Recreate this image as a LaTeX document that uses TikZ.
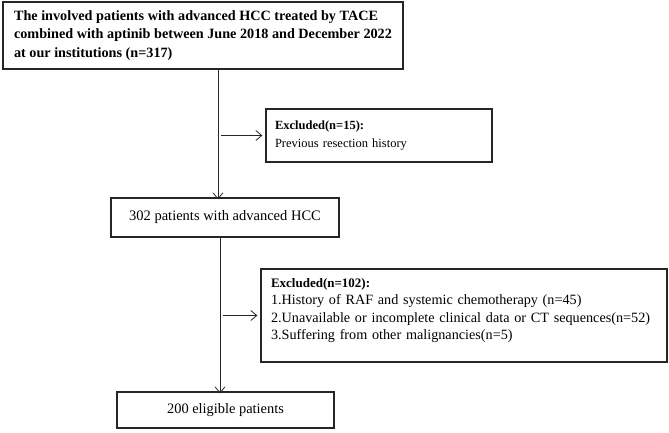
\documentclass[tikz,border=0pt]{standalone}
\usepackage{fontspec}
\setmainfont{Liberation Serif}
\usetikzlibrary{arrows.meta}
\begin{document}
\begin{tikzpicture}[x=1pt,y=-1pt,
  box/.style={draw=black!85, line width=1.2pt, align=left, inner ysep=0pt},
  arr/.style={line width=0.8pt, draw=black!85, -{Straight Barb[length=6pt,width=10pt,line width=0.8pt]}}]
\useasboundingbox (0,0) rectangle (669,432);
\node[box, minimum width=400pt, minimum height=67pt, font=\fontsize{14.2}{18.5}\selectfont\bfseries] (top) at (203,35.5)
  {The involved patients with advanced HCC treated by TACE\\combined with aptinib between June 2018 and December 2022\\at our institutions (n=317)};
\node[box, minimum width=226pt, minimum height=53pt, text width=208pt, font=\fontsize{12.5}{18}\selectfont] (ex1) at (379,135.5)
  {\textbf{Excluded(n=15):}\\Previous resection history};
\node[box, minimum width=228pt, minimum height=39pt, align=center, font=\fontsize{14.5}{18}\selectfont] (mid) at (225,217.5)
  {302 patients with advanced HCC};
\node[box, minimum width=406pt, minimum height=93pt, text width=386pt, font=\fontsize{14.2}{17.5}\selectfont] (ex2) at (464,315.5)
  {{\fontsize{13}{17.5}\selectfont\textbf{Excluded(n=102):}}\\1.History of RAF and systemic chemotherapy (n=45)\\2.Unavailable or incomplete clinical data or CT sequences(n=52)\\3.Suffering from other malignancies(n=5)\\[-4pt]\mbox{}};
\node[box, minimum width=217pt, minimum height=36pt, align=center, font=\fontsize{14.4}{18}\selectfont] (fin) at (225.5,410)
  {200 eligible patients};
\coordinate (v1) at (218,0);
\coordinate (v2) at (220,0);
\draw[arr] (top.south -| v1) -- ([yshift=-2pt]mid.north -| v1);
\draw[arr, shorten <=3pt, shorten >=3pt] (ex1.west -| v1) -- (ex1.west);
\draw[arr] (mid.south -| v2) -- ([yshift=-2pt]fin.north -| v2);
\draw[arr, shorten <=3pt, shorten >=3pt] (ex2.west -| v2) -- (ex2.west);
\end{tikzpicture}
\end{document}
